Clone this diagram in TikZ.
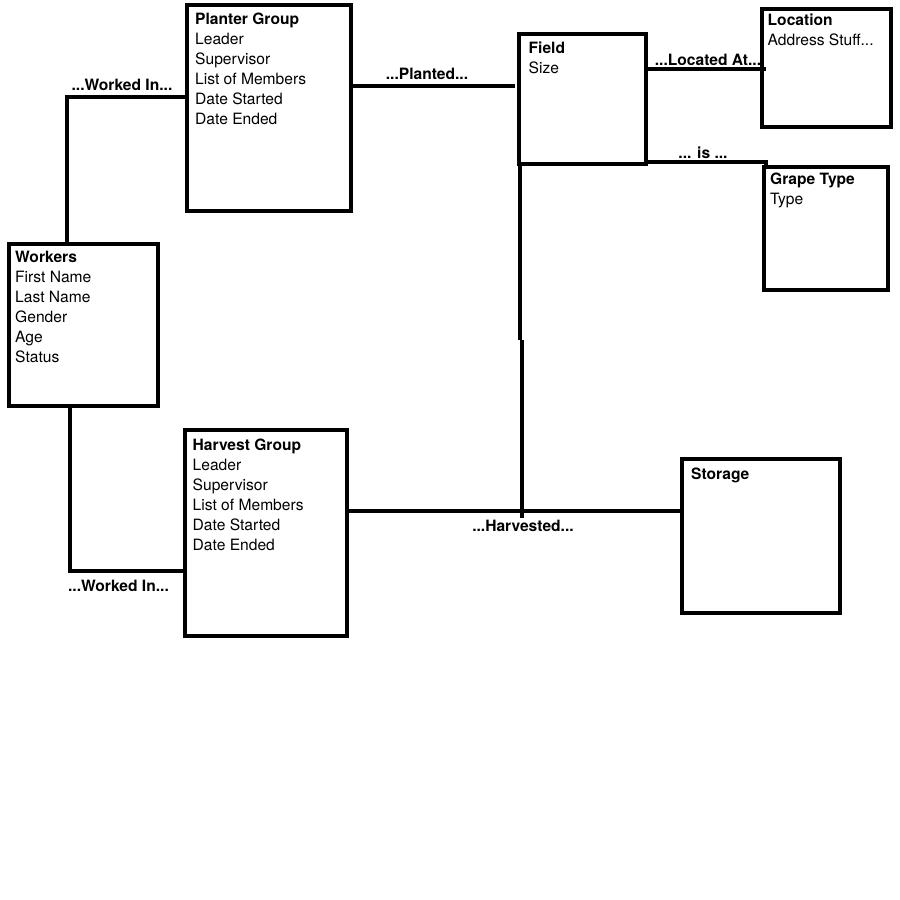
\documentclass[tikz,border=0pt]{standalone}
\usepackage{fontspec}
\setmainfont{TeX Gyre Heros}
\begin{document}
\begin{tikzpicture}[x=1pt,y=-1pt,
  entity/.style={draw, line width=4pt, rectangle, inner sep=0pt, outer sep=0pt, anchor=north west},
  attrs/.style={anchor=north west, inner sep=0pt, align=left, font=\fontsize{15.6}{20}\selectfont},
  rel/.style={anchor=base, inner sep=0pt, font=\fontsize{15.6}{20}\selectfont\bfseries},
  conn/.style={line width=4pt}]
\useasboundingbox (0,0) rectangle (900,900);

% entity boxes
\node[entity, minimum width=164pt, minimum height=206pt] (planter) at (187,5) {};
\node[entity, minimum width=149pt, minimum height=162pt] (workers) at (8.5,243.5) {};
\node[entity, minimum width=162pt, minimum height=206pt] (harvest) at (185,430) {};
\node[entity, minimum width=127pt, minimum height=130pt] (field) at (519,34) {};
\node[entity, minimum width=129pt, minimum height=118pt] (location) at (762,9) {};
\node[entity, minimum width=124pt, minimum height=123pt] (grape) at (764,167) {};
\node[entity, minimum width=158pt, minimum height=154pt] (storage) at (682,459) {};

% entity attributes
\node[attrs] (planter-txt) at (195,10.5) {\strut\textbf{Planter Group}\\Leader\\Supervisor\\List of Members\\Date Started\\Date Ended};
\node[attrs] (workers-txt) at (15,248.7) {\strut\textbf{Workers}\\First Name\\Last Name\\Gender\\Age\\Status};
\node[attrs] (harvest-txt) at (192.5,436) {\strut\textbf{Harvest Group}\\Leader\\Supervisor\\List of Members\\Date Started\\Date Ended};
\node[attrs] (field-txt) at (528.5,39) {\strut\textbf{Field}\\Size};
\node[attrs] (location-txt) at (767.5,11) {\strut\textbf{Location}\\Address Stuff...};
\node[attrs] (grape-txt) at (770,170) {\strut\textbf{Grape Type}\\Type};
\node[attrs] (storage-txt) at (691,465) {\strut\textbf{Storage}};

% relationships
\draw[conn] ([xshift=-16pt]workers.north) |- ([yshift=11pt]planter.west);
\draw[conn] ([yshift=22pt]planter.east) -- ([yshift=22pt,xshift=-4pt]planter.east -| field.west);
\draw[conn] ([yshift=30pt]field.east) -- ([yshift=30pt,xshift=4pt]field.east -| location.west);
\draw[conn] ([yshift=2pt]field.south east) -| ([xshift=2pt]grape.north west);
\coordinate (bend) at (520,340);
\coordinate (hjoin) at (521.5,518);
\draw[conn] ([xshift=1pt]field.south west) -- (bend);
\draw[conn] (bend -| hjoin) -- (hjoin);
\draw[conn] ([yshift=22pt,xshift=-2pt]harvest.east) -- ([yshift=22pt,xshift=1pt]harvest.east -| storage.west);
\draw[conn] ([xshift=-13pt]workers.south) |- ([yshift=-38pt]harvest.west);

% relationship labels
\node[rel] (lbl-planter) at (122,90.5) {...Worked In...};
\node[rel] (lbl-planted) at (427,79.5) {...Planted...};
\node[rel] (lbl-located) at (708,65.5) {...Located At...};
\node[rel] (lbl-is) at (703,158.5) {... is ...};
\node[rel] (lbl-harvested) at (523,531) {...Harvested...};
\node[rel] (lbl-harvest) at (118.5,591.5) {...Worked In...};
\end{tikzpicture}
\end{document}
